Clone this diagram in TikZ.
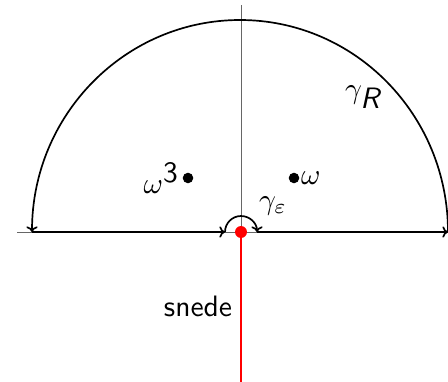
\documentclass[tikz,border=0pt]{standalone}
\usepackage{graphicx}
\usetikzlibrary{arrows.meta}
\newcommand{\bigtxt}[2]{\scalebox{#1}{\sffamily #2}}
\begin{document}
\begin{tikzpicture}[x=0.025cm,y=-0.025cm,
  axis/.style={gray!80!black,line width=0.5pt},
  contour/.style={line width=1.2pt,-{To[length=4pt,width=8pt]}},
  pt/.style={circle,fill=black,inner sep=0pt,minimum size=7.5pt}]
\useasboundingbox (0,0) rectangle (448,382);
\coordinate (O) at (241,232);
\coordinate (axL) at (17,232);
\coordinate (axR) at (448,232);
\coordinate (axT) at (241,5);
\coordinate (eR) at (257,232);
\coordinate (eL) at (225,232);
\coordinate (RR) at (448,232);
\coordinate (RL) at (32,232);
\coordinate (cutEnd) at (241,382);
\draw[axis] (axL) -- (axR);
\draw[axis] (axT) -- (O);
% contour pieces
\draw[contour] (eR) -- (RR);
\draw[contour] (RR) arc[start angle=0,end angle=180,x radius=208,y radius=-212];
\draw[contour] (RL) -- (eL);
\draw[contour] (eL) arc[start angle=180,end angle=0,radius=16,y radius=-16];
% cut
\draw[red,line width=1.3pt] (O) -- (cutEnd);
\node[circle,fill=red,inner sep=0pt,minimum size=8.5pt] (origin) at (O) {};
% points
\node[pt] (w3) at (188,178) {};
\node[pt] (w) at (294,178) {};
\node[anchor=east,inner sep=2pt] (lw3) at (w3.west) {\bigtxt{2.1}{$\omega^{\textsf{3}}$}};
\node[anchor=west,inner sep=1pt] (lw) at (w.east) {\bigtxt{2.1}{$\omega$}};
\node (gR) at (364,97) {\bigtxt{2.1}{$\gamma_{\textsf{\textit{R}}}$}};
\node (ge) at (273,206) {\bigtxt{2.1}{$\gamma_{\varepsilon}$}};
\node (snede) at (198,306) {\bigtxt{2.1}{snede}};
\end{tikzpicture}
\end{document}
